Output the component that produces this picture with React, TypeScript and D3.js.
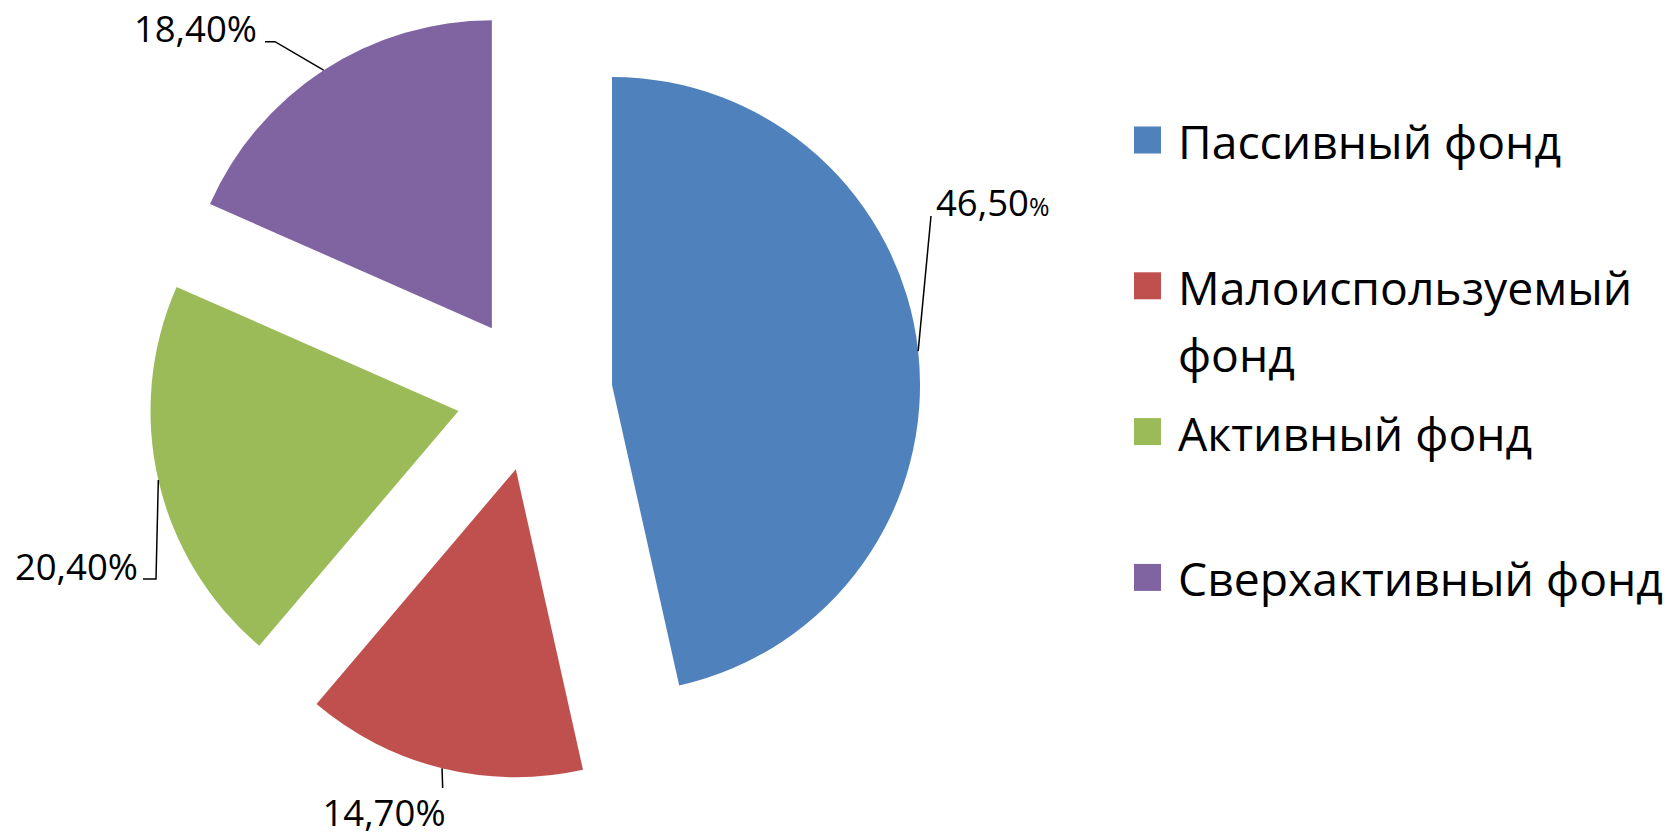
import React from "react";
import * as d3 from "d3";

const categories = ["Пассивный фонд", "Малоиспользуемый фонд", "Активный фонд", "Сверхактивный фонд"];
const values = [46.5, 14.7, 20.4, 18.4];
const colors = ["#4F81BD", "#C0504D", "#9BBB59", "#8064A2"];

const W = 1667;
const H = 836;
const CX = 534.5;
const CY = 393.5;
const R = 308;
const EXPLODE = 78;
const FONT = "'Open Sans', 'Noto Sans', sans-serif";
const LABEL_SIZE = 36.5;
const LEGEND_SIZE = 46.3;

// layout of the data labels (leader knee / end points and text anchor)
const labelLayout = [
  { knee: [931, 216], end: null, tx: 936, ty: 216, anchor: "start", smallPct: true },
  { knee: null, end: [442.7, 788], tx: 384, ty: 826, anchor: "middle", smallPct: false },
  { knee: [156, 579], end: [143, 579], tx: 138, ty: 580, anchor: "end", smallPct: false },
  { knee: [275, 41.7], end: [265, 41.7], tx: 257, ty: 42, anchor: "end", smallPct: false },
];

const legendX = 1134;
const legendSwatch = 27;
const legendTextX = 1178;
const legendY0 = 140;
const legendStep = 145.8;
const legendLineH = 67;
const wrapChars = 19;

function wrap(s: string): string[] {
  if (s.length <= wrapChars) return [s];
  const i = s.lastIndexOf(" ");
  return [s.slice(0, i), s.slice(i + 1)];
}

const fmt = (v: number) => d3.format(".2f")(v).replace(".", ",");

export default function App() {
  const pie = d3.pie<number>().sort(null).value((d) => d);
  const arcs = pie(values);
  const arc = d3.arc<d3.PieArcDatum<number>>().innerRadius(0).outerRadius(R);

  return (
    <svg
      width={W}
      height={H}
      style={{ position: "absolute", left: 0, top: 0, display: "block", background: "#fff" }}
      fontFamily={FONT}
    >
      {arcs.map((a, i) => {
        const mid = (a.startAngle + a.endAngle) / 2;
        const ox = CX + EXPLODE * Math.sin(mid);
        const oy = CY - EXPLODE * Math.cos(mid);
        const px = ox + R * Math.sin(mid);
        const py = oy - R * Math.cos(mid);
        const L = labelLayout[i];
        const pts: number[][] = [[px, py]];
        if (L.knee) pts.push(L.knee);
        if (L.end) pts.push(L.end);
        const line = d3.line()(pts as [number, number][]) || "";
        const txt = fmt(values[i]);
        return (
          <g key={i}>
            <path d={arc(a) || ""} transform={`translate(${ox},${oy})`} fill={colors[i]} />
            <path d={line} fill="none" stroke="#000" strokeWidth={1.5} />
            <text x={L.tx} y={L.ty} fontSize={LABEL_SIZE} textAnchor={L.anchor as any} fill="#000">
              {txt}
              {L.smallPct ? <tspan fontSize={LABEL_SIZE * 0.68}>%</tspan> : "%"}
            </text>
          </g>
        );
      })}
      {categories.map((c, i) => {
        const cy = legendY0 + i * legendStep;
        const lines = wrap(c);
        return (
          <g key={c}>
            <rect x={legendX} y={cy - legendSwatch / 2} width={legendSwatch} height={legendSwatch} fill={colors[i]} />
            {lines.map((l, j) => (
              <text key={j} x={legendTextX} y={cy + 19 + j * legendLineH} fontSize={LEGEND_SIZE} fill="#000">
                {l}
              </text>
            ))}
          </g>
        );
      })}
    </svg>
  );
}
